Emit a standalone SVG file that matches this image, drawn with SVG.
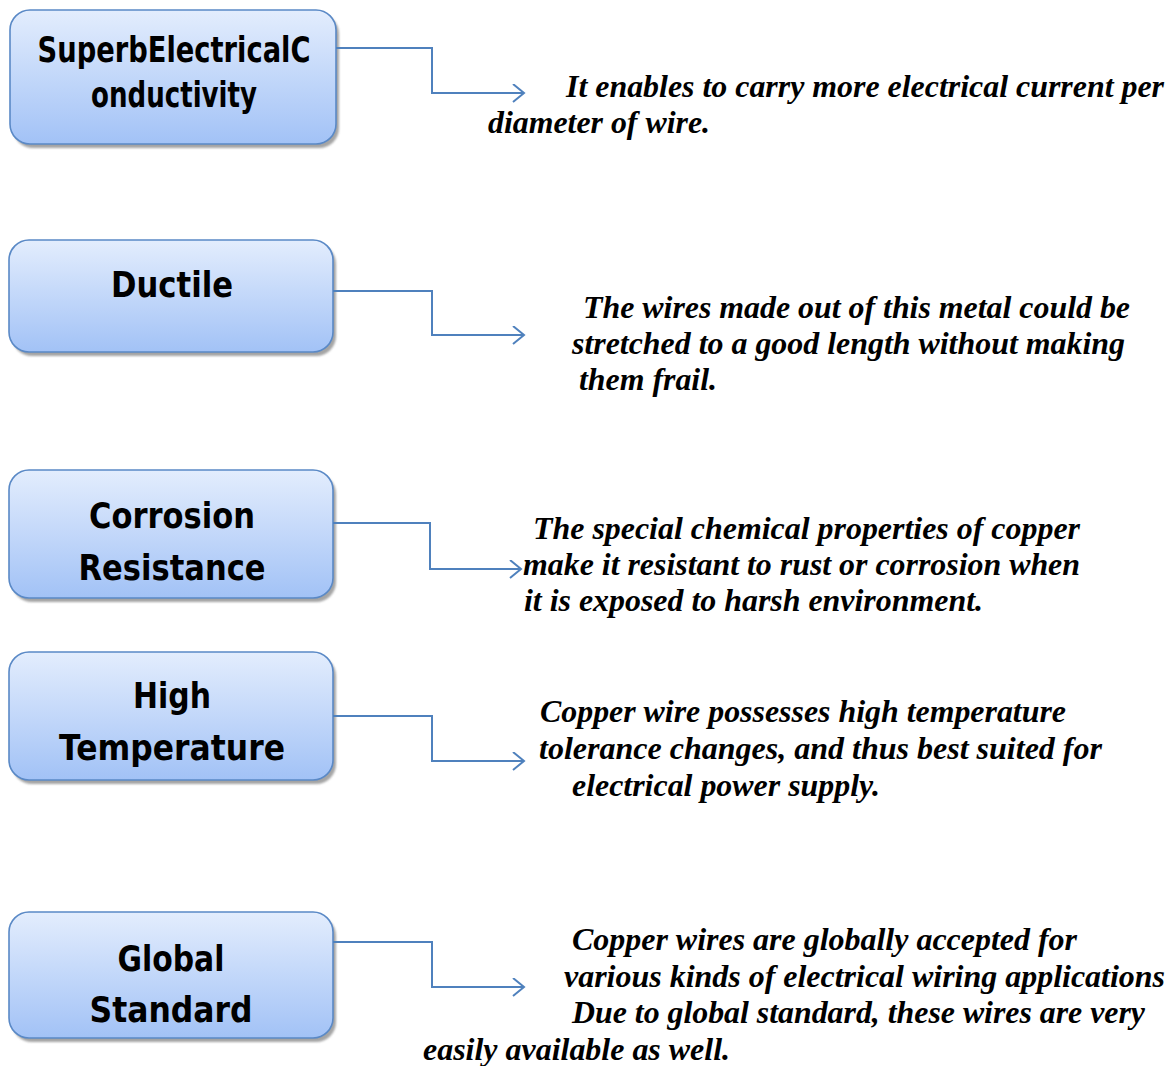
<svg xmlns="http://www.w3.org/2000/svg" width="1176" height="1066" viewBox="0 0 1176 1066">
<style>
.box{fill:url(#g);stroke:#5a89c6;stroke-width:1.6}
.sh{fill:#8e8e8e;opacity:0.8}
.lbl{font-family:"DejaVu Sans",sans-serif;font-weight:bold;font-size:35px;fill:#000;text-anchor:middle}
.desc{font-family:"Liberation Serif","Times New Roman",serif;font-weight:bold;font-style:italic;font-size:31px;fill:#000}
.con{fill:none;stroke:#4f81bd;stroke-width:2;marker-end:url(#arr)}
</style>
<defs>
<linearGradient id="g" x1="0" y1="0" x2="0" y2="1">
<stop offset="0" stop-color="#e3edfd"/>
<stop offset="1" stop-color="#a2c2f6"/>
</linearGradient>
<filter id="blur" x="-5%" y="-5%" width="110%" height="115%"><feGaussianBlur stdDeviation="1.2"/></filter>
<marker id="arr" markerWidth="24" markerHeight="24" refX="21" refY="9" orient="auto" markerUnits="userSpaceOnUse">
<path d="M10,0 L21,9 L10,18" fill="none" stroke="#4f81bd" stroke-width="2"/>
</marker>
</defs>
<rect width="1176" height="1066" fill="#fff"/>

<g id="n1">
<rect class="sh" x="13" y="14" width="326" height="134" rx="20" filter="url(#blur)"/>
<rect class="box" x="10" y="10" width="326" height="134" rx="20"/>
<text class="lbl" x="174" y="62" textLength="273" lengthAdjust="spacingAndGlyphs">SuperbElectricalC</text>
<text class="lbl" x="174" y="107" textLength="166" lengthAdjust="spacingAndGlyphs">onductivity</text>
</g>
<g id="n2">
<rect class="sh" x="12" y="244" width="324" height="112" rx="20" filter="url(#blur)"/>
<rect class="box" x="9" y="240" width="324" height="112" rx="20"/>
<text class="lbl" x="172" y="297" textLength="122" lengthAdjust="spacingAndGlyphs">Ductile</text>
</g>
<g id="n3">
<rect class="sh" x="12" y="474" width="324" height="128" rx="20" filter="url(#blur)"/>
<rect class="box" x="9" y="470" width="324" height="128" rx="20"/>
<text class="lbl" x="172" y="528" textLength="166" lengthAdjust="spacingAndGlyphs">Corrosion</text>
<text class="lbl" x="172" y="580" textLength="187" lengthAdjust="spacingAndGlyphs">Resistance</text>
</g>
<g id="n4">
<rect class="sh" x="12" y="656" width="324" height="128" rx="20" filter="url(#blur)"/>
<rect class="box" x="9" y="652" width="324" height="128" rx="20"/>
<text class="lbl" x="172" y="708" textLength="78" lengthAdjust="spacingAndGlyphs">High</text>
<text class="lbl" x="172" y="760" textLength="226" lengthAdjust="spacingAndGlyphs">Temperature</text>
</g>
<g id="n5">
<rect class="sh" x="12" y="916" width="324" height="126" rx="20" filter="url(#blur)"/>
<rect class="box" x="9" y="912" width="324" height="126" rx="20"/>
<text class="lbl" x="171" y="971" textLength="107" lengthAdjust="spacingAndGlyphs">Global</text>
<text class="lbl" x="171" y="1022" textLength="163" lengthAdjust="spacingAndGlyphs">Standard</text>
</g>

<g id="connectors">
<path class="con" d="M336,48 H432 V93 H524"/>
<path class="con" d="M333,291 H432 V335 H524"/>
<path class="con" d="M333,523 H430 V569 H521"/>
<path class="con" d="M333,716 H432 V761 H524"/>
<path class="con" d="M333,942 H432 V987 H524"/>
</g>

<g id="texts">
<text class="desc" x="566" y="97" textLength="598" lengthAdjust="spacingAndGlyphs">It enables to carry more electrical current per</text>
<text class="desc" x="488" y="133" textLength="222" lengthAdjust="spacingAndGlyphs">diameter of wire.</text>
<text class="desc" x="583" y="318" textLength="547" lengthAdjust="spacingAndGlyphs">The wires made out of this metal could be</text>
<text class="desc" x="572" y="354" textLength="553" lengthAdjust="spacingAndGlyphs">stretched to a good length without making</text>
<text class="desc" x="579" y="390" textLength="138" lengthAdjust="spacingAndGlyphs">them frail.</text>
<text class="desc" x="533" y="539" textLength="547" lengthAdjust="spacingAndGlyphs">The special chemical properties of copper</text>
<text class="desc" x="523" y="575" textLength="557" lengthAdjust="spacingAndGlyphs">make it resistant to rust or corrosion when</text>
<text class="desc" x="524" y="611" textLength="459" lengthAdjust="spacingAndGlyphs">it is exposed to harsh environment.</text>
<text class="desc" x="540" y="722" textLength="526" lengthAdjust="spacingAndGlyphs">Copper wire possesses high temperature</text>
<text class="desc" x="539" y="759" textLength="563" lengthAdjust="spacingAndGlyphs">tolerance changes, and thus best suited for</text>
<text class="desc" x="572" y="796" textLength="308" lengthAdjust="spacingAndGlyphs">electrical power supply.</text>
<text class="desc" x="572" y="950" textLength="505" lengthAdjust="spacingAndGlyphs">Copper wires are globally accepted for</text>
<text class="desc" x="564" y="987" textLength="601" lengthAdjust="spacingAndGlyphs">various kinds of electrical wiring applications</text>
<text class="desc" x="572" y="1023" textLength="573" lengthAdjust="spacingAndGlyphs">Due to global standard, these wires are very</text>
<text class="desc" x="423" y="1060" textLength="307" lengthAdjust="spacingAndGlyphs">easily available as well.</text>
</g>
</svg>
